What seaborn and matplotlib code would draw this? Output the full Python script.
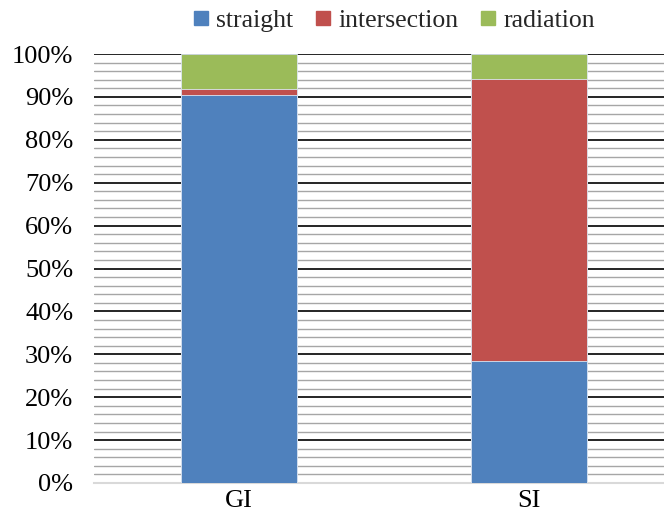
import matplotlib
matplotlib.use("Agg")
import matplotlib.pyplot as plt
from matplotlib.lines import Line2D
from matplotlib.ticker import MultipleLocator, PercentFormatter
import seaborn as sns
import pandas as pd
import numpy as np

categories = ["GI", "SI"]
series_names = ["straight", "intersection", "radiation"]
straight = [90.4, 28.4]
intersection = [1.4, 65.8]
radiation = [8.2, 5.8]
colors = ["#4F81BD", "#C0504D", "#9BBB59"]
y_ticks = [0, 10, 20, 30, 40, 50, 60, 70, 80, 90, 100]

sns.set_theme(style="white")
plt.rcParams["font.family"] = ["Liberation Serif", "DejaVu Serif"]

fig = plt.figure(figsize=(6.64, 5.27), dpi=100)
ax = fig.add_axes([0.1416, 0.0835, 0.8584, 0.814])

cum1 = np.array(straight)
cum2 = cum1 + np.array(intersection)
cum3 = cum2 + np.array(radiation)

layers = [(cum3, colors[2]), (cum2, colors[1]), (cum1, colors[0])]
for vals, c in layers:
    df = pd.DataFrame({"cat": categories, "val": vals})
    sns.barplot(data=df, x="cat", y="val", color=c, width=0.4, ax=ax,
                saturation=1, edgecolor="#DCE6F2", linewidth=0.6, zorder=3)

ax.set_ylim(0, 100)
ax.set_xlim(-0.5, 1.466)
ax.set_yticks(y_ticks)
ax.yaxis.set_major_formatter(PercentFormatter(decimals=0))
ax.yaxis.set_minor_locator(MultipleLocator(2))
ax.grid(axis="y", which="minor", color="#A6A6A6", linewidth=1.0, zorder=0)
ax.grid(axis="y", which="major", color="black", linewidth=1.2, zorder=1)
ax.set_axisbelow(True)
for s in ["top", "right", "left"]:
    ax.spines[s].set_visible(False)
ax.spines["bottom"].set_color("#D9D9D9")
ax.spines["bottom"].set_linewidth(1.5)
ax.set_xlabel("")
ax.set_ylabel("")
ax.tick_params(axis="both", which="both", length=0, labelsize=19, colors="black")
ax.tick_params(axis="y", pad=15)
ax.tick_params(axis="x", pad=5)

handles = [Line2D([0], [0], marker="s", linestyle="", markersize=10,
                  markerfacecolor=c, markeredgecolor=c) for c in colors]
fig.legend(handles, series_names, loc="upper center", bbox_to_anchor=(0.588, 1.027),
           ncol=3, frameon=False, fontsize=18.5, handletextpad=0.0,
           handlelength=1.2, columnspacing=0.55)

fig.savefig("out.png", dpi=100)
